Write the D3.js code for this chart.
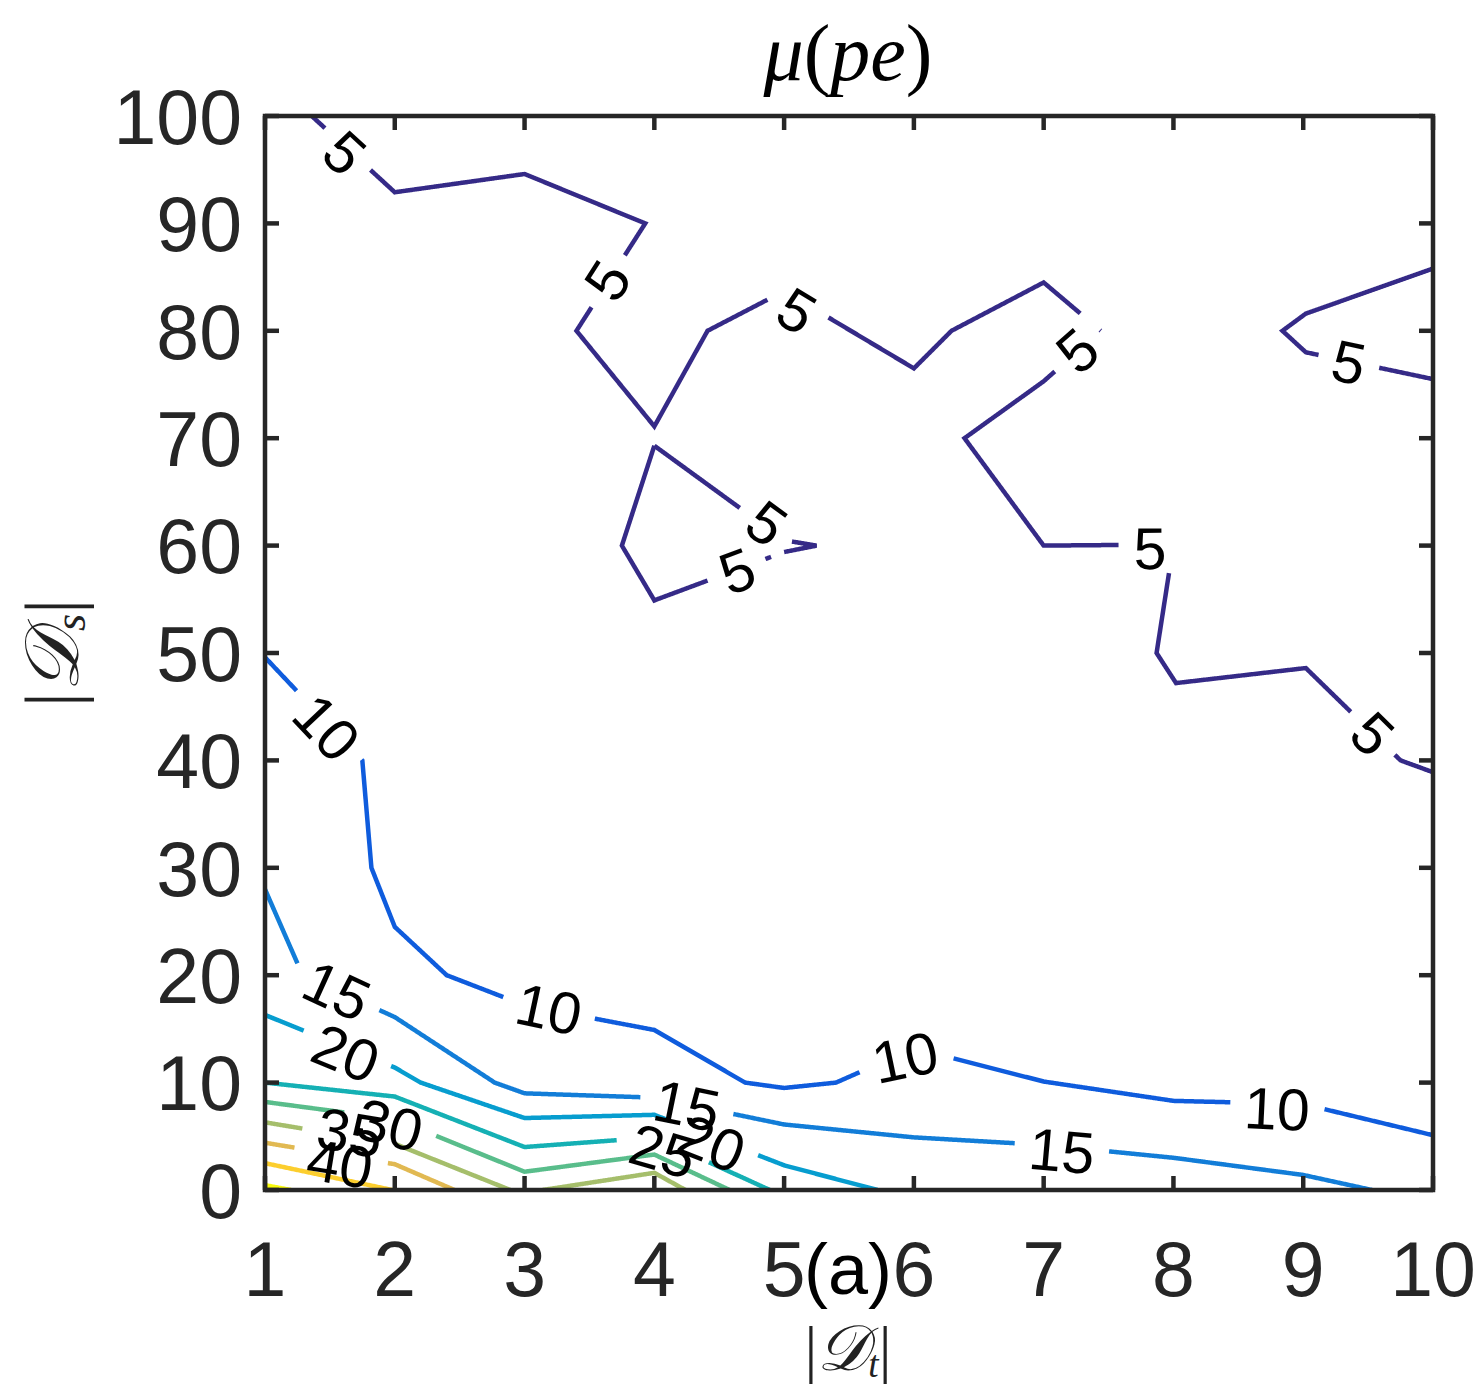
<!DOCTYPE html>
<html>
<head>
<meta charset="utf-8">
<script src="https://cdnjs.cloudflare.com/ajax/libs/d3/7.8.5/d3.min.js"></script>
<style>
  body { margin: 0; background: #fff; }
  svg { display: block; }
</style>
</head>
<body>
<div id="chart"></div>
<script>
// axis values
const xTicks = [1, 2, 3, 4, 5, 6, 7, 8, 9, 10]
const yTicks = [0, 10, 20, 30, 40, 50, 60, 70, 80, 90, 100]

// contour levels and their parula colours
const levels = [5, 10, 15, 20, 25, 30, 35, 40, 45, 50]
const levelColors = ['#352a87', '#0f5cdd', '#127dd8', '#079dcf', '#15b0b4', '#59bd8b', '#a5be6b', '#e1b952', '#fcce2e', '#f9fb0e']

// contour lines as [|Dt|, |Ds|]
const c5a = [[1.36, 100], [2, 92.9], [3, 94.6], [3.93, 90], [3.40, 80], [4, 71.1], [4.41, 80], [5, 83.7], [6, 76.5], [6.29, 80], [7, 84.5], [7.44, 80], [7, 75.3], [6.39, 70], [7, 60], [8, 60.1], [7.87, 50], [8.02, 47.2], [9.02, 48.6], [9.75, 40], [10, 38.9]]
const c5b = [[10, 85.8], [9.02, 81.6], [8.84, 80], [9.02, 78.0], [10, 75.5]]
const c5c = [[4, 69.3], [5, 60.5], [5.25, 60], [5, 59.4], [4, 54.9], [3.75, 60], [4, 69.3]]
const c10 = [[1, 49.6], [1.75, 40], [1.82, 30], [2, 24.5], [2.40, 20], [3, 17.2], [4, 14.9], [4.70, 10], [5, 9.5], [5.40, 10], [6, 13.2], [7, 10.1], [8, 8.3], [9, 8.0], [10, 5.1]]
const c15 = [[1, 28.0], [1.29, 20], [2, 16.1], [2.77, 10], [3, 9.0], [4, 8.6], [5, 6.1], [6, 4.9], [7, 4.2], [8, 3.0], [9, 1.4], [9.53, 0]]
const c20 = [[1, 16.3], [2, 11.4], [2.2, 10], [3, 6.7], [4, 7.0], [5, 2.3], [5.72, 0]]
const c25 = [[1, 10.0], [2, 8.7], [3, 4.0], [4, 4.9], [4.89, 0]]
const c30 = [[1, 8.2], [2, 6.6], [3, 1.7], [4, 3.3], [4.58, 0]]
const c35a = [[1, 6.3], [2, 4.3], [2.89, 0]]
const c35b = [[3.14, 0], [4, 1.6], [4.24, 0]]
const c40 = [[1, 4.4], [2, 2.4], [2.46, 0]]
const c45 = [[1, 2.5], [1.98, 0]]
const c50 = [[1, 0.45], [1.2, 0]]

// inline label spots [|Dt|, |Ds|] per level
const labels5 = [[1.616, 96.6], [3.635, 84.7], [5.099, 81.9], [7.257, 78.2], [7.819, 59.8], [9.537, 42.5], [9.353, 77.1], [4.868, 62.1], [4.637, 57.7]]
const labels10 = [[1.478, 43.1], [3.188, 16.9], [5.931, 12.4], [8.798, 7.6]]
const labels15 = [[1.555, 18.6], [4.252, 7.9], [7.141, 3.7]]
const labels20 = [[1.624, 12.8], [4.444, 4.4]]
const labels25 = [[4.067, 3.7]]
const labels30 = [[1.963, 6.1]]
const labels35 = [[1.655, 5.4]]
const labels40 = [[1.578, 2.5]]

const lines = [
  { level: 5, pts: c5a }, { level: 5, pts: c5b }, { level: 5, pts: c5c },
  { level: 10, pts: c10 }, { level: 15, pts: c15 }, { level: 20, pts: c20 },
  { level: 25, pts: c25 }, { level: 30, pts: c30 }, { level: 35, pts: c35a },
  { level: 35, pts: c35b }, { level: 40, pts: c40 }, { level: 45, pts: c45 },
  { level: 50, pts: c50 }
]
const labelSpots = [
  [5, labels5], [10, labels10], [15, labels15], [20, labels20],
  [25, labels25], [30, labels30], [35, labels35], [40, labels40]
].flatMap(([level, spots]) => spots.map((p) => ({ level, p })))

const W = 1481, H = 1392
const tickFont = 77, labelFont = 59

const svg = d3.select('#chart').append('svg')
  .attr('width', W).attr('height', H)
  .style('font-family', '"Liberation Sans", Arial, Helvetica, sans-serif')

const x = d3.scaleLinear().domain([1, 10]).range([265, 1433])
const y = d3.scaleLinear().domain([0, 100]).range([1190, 116])
const color = d3.scaleOrdinal().domain(levels).range(levelColors)

svg.append('defs').append('clipPath').attr('id', 'plot')
  .append('rect')
  .attr('x', x(1)).attr('y', y(100))
  .attr('width', x(10) - x(1)).attr('height', y(0) - y(100))

// screen polyline, densified with arc length so label gaps can be cut out
function densify(pts) {
  const sp = pts.map((p) => [x(p[0]), y(p[1])])
  const out = []
  let s = 0
  for (let i = 0; i < sp.length - 1; i++) {
    const a = sp[i], b = sp[i + 1]
    const len = Math.hypot(b[0] - a[0], b[1] - a[1])
    const n = Math.max(1, Math.ceil(len))
    for (let k = 0; k < n; k++) {
      out.push({ x: a[0] + (b[0] - a[0]) * k / n, y: a[1] + (b[1] - a[1]) * k / n, s: s + len * k / n })
    }
    s += len
  }
  const last = sp[sp.length - 1]
  out.push({ x: last[0], y: last[1], s })
  return out
}

lines.forEach((l) => { l.dense = densify(l.pts) })

function pointAt(dense, s) {
  s = Math.max(0, Math.min(dense[dense.length - 1].s, s))
  let i = d3.bisector((d) => d.s).left(dense, s)
  i = Math.max(1, Math.min(dense.length - 1, i))
  const a = dense[i - 1], b = dense[i]
  const t = b.s === a.s ? 0 : (s - a.s) / (b.s - a.s)
  return [a.x + (b.x - a.x) * t, a.y + (b.y - a.y) * t]
}

// work out each label's rotation from the line it sits on
labelSpots.forEach((lab) => {
  const cx = x(lab.p[0]), cy = y(lab.p[1])
  const adv = String(lab.level).length * 0.556 * labelFont
  lab.cx = cx
  lab.cy = cy
  lab.hw = adv / 2 + 14
  lab.hh = labelFont * 0.42
  let best = null
  lines.filter((l) => l.level === lab.level).forEach((l) => {
    l.dense.forEach((d) => {
      const dist = Math.hypot(d.x - cx, d.y - cy)
      if (!best || dist < best.dist) best = { dist, line: l, s: d.s }
    })
  })
  const p1 = pointAt(best.line.dense, best.s - adv / 2)
  const p2 = pointAt(best.line.dense, best.s + adv / 2)
  let ang = Math.atan2(p2[1] - p1[1], p2[0] - p1[0]) * 180 / Math.PI
  if (ang > 90) ang -= 180
  if (ang < -90) ang += 180
  lab.angle = ang
})

function hidden(d, level) {
  return labelSpots.some((lab) => {
    if (lab.level !== level) return false
    const r = lab.angle * Math.PI / 180
    const dx = d.x - lab.cx, dy = d.y - lab.cy
    const u = dx * Math.cos(r) + dy * Math.sin(r)
    const v = -dx * Math.sin(r) + dy * Math.cos(r)
    return Math.abs(u) < lab.hw && Math.abs(v) < lab.hh
  })
}

const pieces = []
lines.forEach((l) => {
  let run = []
  l.dense.forEach((d) => {
    if (hidden(d, l.level)) {
      if (run.length > 1) pieces.push({ level: l.level, pts: run })
      run = []
    } else {
      run.push(d)
    }
  })
  if (run.length > 1) pieces.push({ level: l.level, pts: run })
})

const path = d3.line().x((d) => d.x).y((d) => d.y)

svg.append('g')
  .attr('clip-path', 'url(#plot)')
  .selectAll('path')
  .data(pieces)
  .enter()
  .append('path')
  .attr('d', (d) => path(d.pts))
  .attr('fill', 'none')
  .attr('stroke', (d) => color(d.level))
  .attr('stroke-width', 4.5)

svg.append('g')
  .selectAll('text')
  .data(labelSpots)
  .enter()
  .append('text')
  .attr('transform', (d) => `translate(${d.cx},${d.cy}) rotate(${d.angle})`)
  .attr('text-anchor', 'middle')
  .attr('dy', '0.36em')
  .attr('font-size', labelFont)
  .attr('fill', '#000')
  .text((d) => d.level)

// axes box with inward ticks on all sides
const axisColor = '#262626'
const tickLen = 14
const ax = svg.append('g').attr('stroke', axisColor).attr('stroke-width', 4.5)

ax.append('rect')
  .attr('x', x(1)).attr('y', y(100))
  .attr('width', x(10) - x(1)).attr('height', y(0) - y(100))
  .attr('fill', 'none')

ax.selectAll('line.xb').data(xTicks).enter().append('line')
  .attr('x1', (d) => x(d)).attr('x2', (d) => x(d))
  .attr('y1', y(0)).attr('y2', y(0) - tickLen)
ax.selectAll('line.xt').data(xTicks).enter().append('line')
  .attr('x1', (d) => x(d)).attr('x2', (d) => x(d))
  .attr('y1', y(100)).attr('y2', y(100) + tickLen)
ax.selectAll('line.yl').data(yTicks).enter().append('line')
  .attr('y1', (d) => y(d)).attr('y2', (d) => y(d))
  .attr('x1', x(1)).attr('x2', x(1) + tickLen)
ax.selectAll('line.yr').data(yTicks).enter().append('line')
  .attr('y1', (d) => y(d)).attr('y2', (d) => y(d))
  .attr('x1', x(10)).attr('x2', x(10) - tickLen)

svg.append('g').selectAll('text')
  .data(xTicks).enter().append('text')
  .attr('x', (d) => x(d)).attr('y', 1296)
  .attr('text-anchor', 'middle')
  .attr('font-size', tickFont)
  .attr('fill', axisColor)
  .text((d) => d)

svg.append('g').selectAll('text')
  .data(yTicks).enter().append('text')
  .attr('x', 242).attr('y', (d) => y(d))
  .attr('dy', '0.36em')
  .attr('text-anchor', 'end')
  .attr('font-size', tickFont)
  .attr('fill', axisColor)
  .text((d) => d)

// panel tag
svg.append('text')
  .attr('x', 848).attr('y', 1294)
  .attr('text-anchor', 'middle')
  .attr('font-size', 72)
  .attr('fill', '#000')
  .text('(a)')

// title and axis labels (LaTeX-like)
const serif = '"Liberation Serif", "DejaVu Serif", serif'
const title = svg.append('text')
  .attr('x', 848).attr('y', 80)
  .attr('text-anchor', 'middle')
  .attr('font-family', serif)
  .attr('font-size', 80)
  .attr('fill', '#000')
title.append('tspan').attr('font-style', 'italic').text('μ')
title.append('tspan').text('(')
title.append('tspan').attr('font-style', 'italic').text('pe')
title.append('tspan').text(')')

function calLabel(g, sub, size) {
  g.attr('text-anchor', 'middle')
    .attr('font-family', serif)
    .attr('font-size', size)
    .attr('fill', '#222')
  g.append('tspan').text('|')
  g.append('tspan').attr('font-style', 'italic').text('𝒟')
  g.append('tspan').attr('font-style', 'italic').attr('font-size', size * 0.58).attr('dy', 7).text(sub)
  g.append('tspan').attr('dy', -7).text('|')
}

calLabel(svg.append('text').attr('x', 848).attr('y', 1370), 't', 64)
calLabel(svg.append('text').attr('transform', 'translate(78,653) rotate(-90)'), 's', 76)
</script>
</body>
</html>
